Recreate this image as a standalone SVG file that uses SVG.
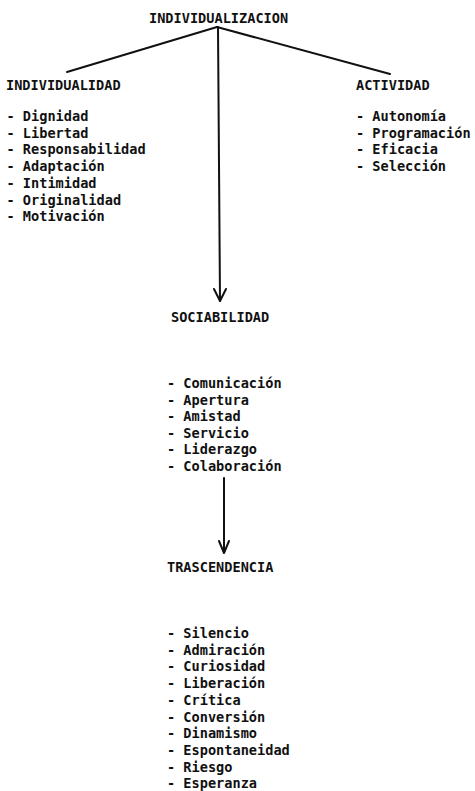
<svg xmlns="http://www.w3.org/2000/svg" width="475" height="791" viewBox="0 0 475 791">
<style>
text{font-family:"DejaVu Sans Mono","Liberation Mono",monospace;font-size:13.6px;font-weight:bold;fill:#111}
.ln{stroke:#111;stroke-width:2;fill:none;stroke-linecap:round;stroke-linejoin:round}
</style>
<rect width="475" height="791" fill="#fff"/>
<g id="connectors">
<path class="ln" d="M217,27 L67,72"/>
<path class="ln" d="M217,27 L390,74"/>
<path class="ln" d="M218,27 L220,301"/>
<path class="ln" d="M214,289 L220,301 L226,289"/>
<path class="ln" d="M224,478 L224,552"/>
<path class="ln" d="M219,541 L224,553 L229,541"/>
</g>
<g id="individualizacion">
<text x="149" y="23">INDIVIDUALIZACION</text>
</g>
<g id="individualidad">
<text x="6" y="90">INDIVIDUALIDAD</text>
<text x="6.5" y="121">- Dignidad</text>
<text x="6.5" y="137.7">- Libertad</text>
<text x="6.5" y="154.4">- Responsabilidad</text>
<text x="6.5" y="171.1">- Adaptación</text>
<text x="6.5" y="187.8">- Intimidad</text>
<text x="6.5" y="204.5">- Originalidad</text>
<text x="6.5" y="221.2">- Motivación</text>
</g>
<g id="actividad">
<text x="356" y="90">ACTIVIDAD</text>
<text x="356" y="121">- Autonomía</text>
<text x="356" y="137.7">- Programación</text>
<text x="356" y="154.4">- Eficacia</text>
<text x="356" y="171.1">- Selección</text>
</g>
<g id="sociabilidad">
<text x="171" y="322">SOCIABILIDAD</text>
<text x="167" y="388">- Comunicación</text>
<text x="167" y="404.5">- Apertura</text>
<text x="167" y="421">- Amistad</text>
<text x="167" y="437.5">- Servicio</text>
<text x="167" y="454">- Liderazgo</text>
<text x="167" y="470.5">- Colaboración</text>
</g>
<g id="trascendencia">
<text x="167" y="572">TRASCENDENCIA</text>
<text x="167" y="638">- Silencio</text>
<text x="167" y="654.7">- Admiración</text>
<text x="167" y="671.4">- Curiosidad</text>
<text x="167" y="688.1">- Liberación</text>
<text x="167" y="704.8">- Crítica</text>
<text x="167" y="721.5">- Conversión</text>
<text x="167" y="738.2">- Dinamismo</text>
<text x="167" y="754.9">- Espontaneidad</text>
<text x="167" y="771.6">- Riesgo</text>
<text x="167" y="788.3">- Esperanza</text>
</g>
</svg>
